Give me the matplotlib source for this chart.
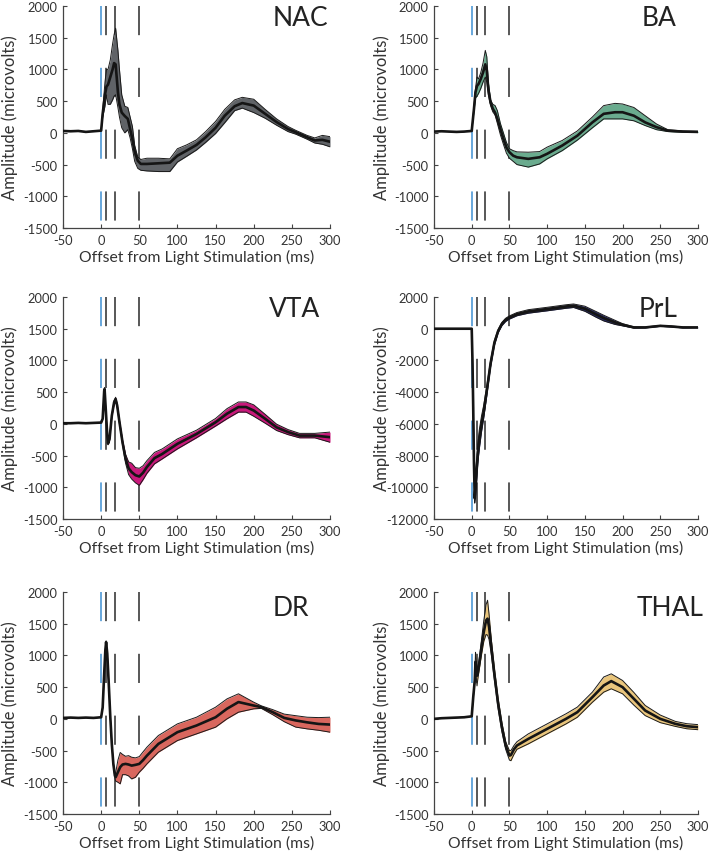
import matplotlib
matplotlib.use("Agg")
import matplotlib.pyplot as plt

plt.rcParams['font.family'] = ['Lato', 'DejaVu Sans']
plt.rcParams['axes.unicode_minus'] = False
plt.rcParams['lines.scale_dashes'] = False

# ---------------- data ----------------
stim_lines = [0, 7, 18, 50]          # ms, first one is the light pulse (blue)
x_ticks = [-50, 0, 50, 100, 150, 200, 250, 300]
y_ticks_std = [-1500, -1000, -500, 0, 500, 1000, 1500, 2000]
y_ticks_prl = [-12000, -10000, -8000, -6000, -4000, -2000, 0, 2000]

regions = ["NAC", "BA", "VTA", "PrL", "DR", "THAL"]

t_nac = [-50, -40, -30, -20, -10, 0, 2, 5, 7, 9, 12, 15, 17, 19, 22, 24, 27, 31, 35, 38, 41, 44, 48, 52,
         60, 75, 90, 100, 112, 125, 137, 150, 162, 175, 185, 200, 215, 230, 245, 255, 270, 280, 290, 300]
mean_nac = [30, 25, 30, 15, 25, 35, 300, 600, 730, 760, 880, 1000, 1100, 1080, 640, 450, 320, 265, 220, 60,
            -100, -300, -440, -490, -490, -480, -470, -360, -280, -190, -70, 80, 270, 420, 470, 430, 300,
            170, 60, 10, -70, -120, -110, -140]
upper_nac = [30, 25, 30, 15, 25, 35, 350, 800, 1000, 1000, 1150, 1400, 1550, 1650, 1300, 1000, 600, 420,
             400, 250, 100, -200, -380, -420, -400, -400, -410, -250, -190, -110, 20, 180, 370, 520, 560,
             530, 370, 220, 100, 40, -40, -80, -40, -60]
lower_nac = [30, 25, 30, 15, 25, 35, 250, 420, 600, 450, 450, 520, 580, 600, 400, 250, 80, 0, 50, -80,
             -250, -450, -560, -590, -600, -610, -610, -460, -370, -270, -150, -10, 160, 350, 390, 320, 230,
             120, 20, -20, -100, -160, -180, -220]

t_ba = [-50, -40, -30, -20, -10, 0, 3, 5, 7, 9, 12, 15, 18, 20, 22, 25, 28, 31, 34, 38, 42, 46, 50, 55,
        60, 75, 90, 100, 120, 140, 160, 175, 190, 200, 215, 230, 245, 260, 280, 300]
mean_ba = [20, 25, 20, 15, 20, 30, 380, 640, 740, 770, 850, 950, 1080, 980, 690, 480, 380, 320, 220, 60,
           -95, -230, -305, -360, -385, -410, -385, -330, -200, -45, 165, 300, 325, 325, 270, 165, 90, 35,
           20, 15]
upper_ba = [20, 25, 20, 15, 20, 30, 420, 700, 880, 850, 950, 1100, 1300, 1200, 800, 520, 450, 430, 350,
            150, 0, -150, -250, -280, -300, -305, -295, -225, -120, 30, 250, 430, 465, 455, 400, 270, 140,
            50, 30, 25]
lower_ba = [20, 25, 20, 15, 20, 30, 340, 550, 580, 620, 700, 800, 880, 800, 600, 430, 330, 280, 150, -30,
            -180, -320, -400, -450, -500, -540, -490, -410, -280, -115, 80, 220, 220, 220, 190, 115, 50, 20,
            10, 5]

t_vta = [-50, -40, -30, -20, -10, 0, 2, 4, 4.5, 6, 8, 9, 11, 14, 17, 19, 21, 24, 28, 32, 36, 40, 45, 50,
         55, 60, 70, 80, 100, 125, 150, 165, 180, 190, 200, 215, 230, 245, 260, 280, 300]
mean_vta = [10, 10, 15, 10, 15, 20, 80, 520, 550, 240, -180, -310, -240, 130, 340, 390, 290, 30, -290,
            -550, -700, -760, -810, -830, -770, -680, -540, -475, -315, -160, 25, 160, 265, 265, 210, 80,
            -55, -130, -185, -185, -210]
upper_vta = [10, 10, 15, 10, 15, 20, 80, 540, 570, 260, -160, -290, -220, 150, 370, 420, 320, 60, -250,
             -480, -600, -620, -690, -700, -660, -580, -450, -395, -237, -100, 85, 240, 345, 345, 300, 150,
             -5, -90, -150, -150, -130]
lower_vta = [10, 10, 15, 10, 15, 20, 80, 500, 530, 220, -200, -330, -260, 110, 310, 360, 260, 0, -330,
             -620, -800, -870, -930, -970, -880, -780, -630, -553, -395, -220, -35, 80, 185, 185, 120, 10,
             -105, -170, -220, -220, -290]

t_prl = [-50, -25, 0, 1, 2, 3, 4, 5, 6, 8, 10, 13, 16, 20, 25, 30, 35, 40, 45, 50, 60, 75, 100, 125, 135,
         150, 165, 175, 190, 200, 215, 230, 250, 265, 280, 300]
mean_prl = [0, 0, 0, -2000, -5000, -8500, -10700, -10000, -9300, -7900, -7000, -6000, -5200, -3900,
            -2200, -900, -150, 300, 560, 710, 920, 1090, 1240, 1400, 1450, 1260, 900, 670, 400, 250, 80, 80,
            180, 140, 80, 80]
upper_prl = [0, 0, 0, -1800, -4600, -8000, -10200, -9400, -8600, -7300, -6400, -5500, -4800, -3600,
             -2000, -750, -50, 400, 660, 810, 1020, 1200, 1350, 1510, 1560, 1420, 1080, 850, 530, 320, 120,
             110, 210, 170, 110, 100]
lower_prl = [0, 0, 0, -2200, -5400, -9000, -11000, -10600, -10000, -8500, -7600, -6500, -5600, -4200,
             -2400, -1050, -250, 200, 460, 610, 820, 980, 1130, 1290, 1340, 1100, 720, 490, 270, 180, 40, 50,
             150, 110, 50, 60]

t_dr = [-50, -40, -30, -20, -10, 0, 2, 4, 5.5, 6.5, 8, 10, 12, 14, 16, 18, 19, 22, 25, 28, 32, 36, 40, 45,
        50, 55, 60, 75, 100, 125, 150, 165, 180, 200, 210, 225, 240, 255, 270, 285, 300]
mean_dr = [15, 20, 15, 20, 15, 25, 180, 710, 1080, 1210, 1030, 550, 30, -400, -710, -895, -920, -840, -760,
           -720, -710, -720, -737, -725, -710, -650, -580, -395, -210, -105, 25, 160, 265, 210, 185, 105, 15,
           -25, -55, -80, -90]
upper_dr = [15, 20, 15, 20, 15, 25, 190, 730, 1100, 1230, 1050, 570, 50, -380, -690, -860, -850, -650,
            -530, -560, -590, -580, -605, -615, -595, -520, -447, -263, -79, 26, 184, 315, 395, 263, 205,
            145, 75, 50, 26, 20, 26]
lower_dr = [15, 20, 15, 20, 15, 25, 170, 690, 1060, 1190, 1010, 530, 10, -420, -730, -930, -980, -1000,
            -1025, -880, -880, -900, -947, -921, -842, -780, -710, -526, -342, -237, -131, 0, 105, 158, 165,
            65, -45, -130, -158, -180, -210]

t_thal = [-50, -40, -30, -20, -10, 0, 2, 4, 5, 6, 7, 8, 10, 13, 16, 19, 21, 23, 26, 30, 35, 40, 45, 50, 52,
          56, 60, 75, 100, 125, 140, 160, 175, 185, 200, 215, 230, 250, 270, 285, 300]
mean_thal = [0, 10, 15, 20, 25, 40, 340, 600, 900, 800, 680, 720, 870, 1130, 1370, 1550, 1580, 1450, 1130,
             710, 240, -130, -420, -580, -570, -480, -420, -316, -158, 0, 105, 342, 526, 595, 500, 316, 131,
             0, -79, -116, -131]
upper_thal = [0, 10, 15, 20, 25, 40, 360, 650, 1050, 950, 760, 800, 950, 1250, 1550, 1800, 1870, 1650,
              1250, 800, 320, -60, -360, -500, -500, -420, -360, -237, -79, 80, 185, 422, 660, 710, 605, 416,
              211, 60, -40, -76, -91]
lower_thal = [0, 10, 15, 20, 25, 40, 320, 560, 780, 650, 520, 620, 780, 1010, 1220, 1330, 1320, 1250,
              1010, 620, 160, -200, -480, -650, -660, -560, -480, -395, -237, -80, 25, 262, 421, 474, 395,
              216, 51, -60, -119, -156, -171]

# ---------------- styling ----------------
fill_colors = {"NAC": "#606367", "BA": "#6aab8e", "VTA": "#c8187a",
               "PrL": "#2b2d6b", "DR": "#d9675e", "THAL": "#e9c57c"}
series = {
    "NAC": (t_nac, mean_nac, upper_nac, lower_nac),
    "BA": (t_ba, mean_ba, upper_ba, lower_ba),
    "VTA": (t_vta, mean_vta, upper_vta, lower_vta),
    "PrL": (t_prl, mean_prl, upper_prl, lower_prl),
    "DR": (t_dr, mean_dr, upper_dr, lower_dr),
    "THAL": (t_thal, mean_thal, upper_thal, lower_thal),
}
title_pos = {"NAC": (0.888, 0.946), "BA": (0.854, 0.946), "VTA": (0.866, 0.95),
             "PrL": (0.85, 0.95), "DR": (0.854, 0.932), "THAL": (0.895, 0.932)}

W, H = 710, 853
col_x = [63, 434]
col_w = [267, 264]
row_top = [7, 298, 593]
ax_h = 222

fig = plt.figure(figsize=(W / 100, H / 100), dpi=100)
text_col = "#333333"

for i, name in enumerate(regions):
    r, c = divmod(i, 2)
    left = col_x[c] / W
    bottom = 1 - (row_top[r] + ax_h) / H
    ax = fig.add_axes([left, bottom, col_w[c] / W, ax_h / H])
    t, m, up, lo = series[name]

    ylim = (-12000, 2000) if name == "PrL" else (-1500, 2000)
    yt = y_ticks_prl if name == "PrL" else y_ticks_std

    # stimulation markers (dashed, starting at the top)
    for k, xs in enumerate(stim_lines):
        ax.plot([xs, xs], [1, 0], transform=ax.get_xaxis_transform(),
                color="#3f8fd2" if k == 0 else "#2a2a2a", lw=1.1,
                linestyle=(0, (21, 23.5)), zorder=1)

    ax.fill_between(t, lo, up, color=fill_colors[name], lw=0, zorder=2)
    ax.plot(t, up, color="#1a1a1a", lw=0.7, zorder=3)
    ax.plot(t, lo, color="#1a1a1a", lw=0.7, zorder=3)
    ax.plot(t, m, color="#151515", lw=1.9, zorder=4)

    ax.set_xlim(-50, 300)
    ax.set_ylim(*ylim)
    ax.set_xticks(x_ticks)
    ax.set_yticks(yt)
    ax.set_xticklabels([str(v) for v in x_ticks])
    ax.set_yticklabels([str(v) for v in yt])

    for s in ("top", "right"):
        ax.spines[s].set_visible(False)
    for s in ("left", "bottom"):
        ax.spines[s].set_color("#444444")
        ax.spines[s].set_linewidth(0.9)
    ax.tick_params(direction="in", length=3, width=0.8, colors="#444444",
                   labelcolor=text_col, labelsize=9.3, pad=4)

    ax.set_xlabel("Offset from Light Stimulation (ms)", fontsize=11.3, color=text_col)
    ax.xaxis.set_label_coords(0.5, -0.095)
    ax.set_ylabel("Amplitude (microvolts)", fontsize=12, color=text_col)
    ax.yaxis.set_label_coords(-0.198, 0.5)
    ax.yaxis.label.set_va("center")

    tx, ty = title_pos[name]
    ax.text(tx, ty, name, transform=ax.transAxes, ha="center", va="center",
            fontsize=19, color="#222222")

fig.savefig("out.png", dpi=100)
